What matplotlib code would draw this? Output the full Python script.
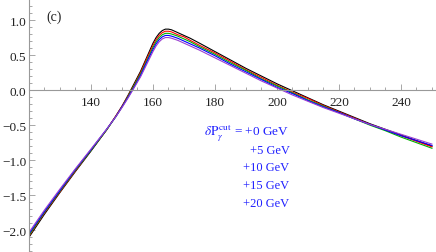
import matplotlib
matplotlib.use("Agg")
import matplotlib.pyplot as plt
from matplotlib.ticker import MultipleLocator, FixedLocator, FuncFormatter

plt.rcParams['font.family'] = ['Liberation Serif', 'DejaVu Serif']
plt.rcParams['mathtext.fontset'] = 'stix'

# values
x = [120, 125, 130, 135, 140, 145, 148, 150, 152, 154, 156, 158, 159, 160, 161,
     162, 163, 164, 165, 166, 168, 170, 172, 175, 180, 185, 190, 195, 200, 205,
     210, 215, 220, 225, 230, 235, 240, 245, 250]
y_0 = [-2.10, -1.77, -1.46, -1.16, -0.87, -0.57, -0.37, -0.23, -0.07, 0.10, 0.27, 0.47, 0.57, 0.67, 0.75,
       0.81, 0.85, 0.87, 0.87, 0.86, 0.82, 0.78, 0.74, 0.67, 0.55, 0.43, 0.31, 0.20, 0.09, -0.01,
       -0.11, -0.21, -0.30, -0.39, -0.48, -0.56, -0.64, -0.72, -0.80]
y_5 = [-2.08, -1.75, -1.45, -1.15, -0.86, -0.57, -0.37, -0.23, -0.08, 0.08, 0.25, 0.45, 0.54, 0.64, 0.72,
       0.78, 0.82, 0.84, 0.84, 0.83, 0.79, 0.76, 0.71, 0.64, 0.53, 0.41, 0.29, 0.18, 0.07, -0.03,
       -0.12, -0.22, -0.31, -0.40, -0.49, -0.57, -0.65, -0.73, -0.81]
y_10 = [-2.07, -1.74, -1.44, -1.14, -0.86, -0.57, -0.38, -0.24, -0.09, 0.07, 0.23, 0.42, 0.51, 0.61, 0.69,
        0.75, 0.79, 0.81, 0.81, 0.80, 0.77, 0.73, 0.69, 0.62, 0.51, 0.39, 0.28, 0.16, 0.06, -0.04,
        -0.14, -0.23, -0.32, -0.41, -0.50, -0.58, -0.67, -0.75, -0.83]
y_15 = [-2.05, -1.73, -1.43, -1.13, -0.85, -0.56, -0.38, -0.24, -0.10, 0.05, 0.21, 0.40, 0.49, 0.58, 0.66,
        0.72, 0.76, 0.78, 0.78, 0.77, 0.74, 0.70, 0.66, 0.60, 0.49, 0.37, 0.26, 0.15, 0.04, -0.05,
        -0.15, -0.24, -0.32, -0.41, -0.49, -0.57, -0.65, -0.72, -0.79]
y_20 = [-2.03, -1.71, -1.41, -1.12, -0.84, -0.56, -0.38, -0.25, -0.11, 0.04, 0.19, 0.37, 0.46, 0.55, 0.63,
        0.69, 0.73, 0.75, 0.75, 0.74, 0.71, 0.67, 0.63, 0.57, 0.46, 0.35, 0.24, 0.13, 0.03, -0.07,
        -0.16, -0.25, -0.33, -0.41, -0.49, -0.56, -0.63, -0.70, -0.77]
series = [y_0, y_5, y_10, y_15, y_20]
colors = ['black', '#ff0000', '#00b000', '#0000ff', '#9a40d0']
labels = ['+0 GeV', '+5 GeV', '+10 GeV', '+15 GeV', '+20 GeV']

fig = plt.figure(figsize=(4.36, 2.53), dpi=100)
ax = fig.add_axes([29 / 436, 0, 407 / 436, 1])

for ys, c in zip(series, colors):
    ax.plot(x, ys, color=c, lw=0.8, solid_joinstyle='round')

ax.set_xlim(120, 251.3)
ax.set_ylim(-2.31, 1.30)

# axes crossing like Mathematica
ax.spines['top'].set_visible(False)
ax.spines['right'].set_visible(False)
ax.spines['left'].set_position(('data', 120))
ax.spines['bottom'].set_position(('data', 0))
for s in ('left', 'bottom'):
    ax.spines[s].set_color('#999999')
    ax.spines[s].set_linewidth(0.8)

ax.xaxis.set_major_locator(FixedLocator([140, 160, 180, 200, 220, 240]))
ax.xaxis.set_minor_locator(MultipleLocator(5))
ax.yaxis.set_major_locator(MultipleLocator(0.5))
ax.yaxis.set_minor_locator(MultipleLocator(0.1))
ax.yaxis.set_major_formatter(FuncFormatter(lambda v, p: ('%.1f' % v).replace('-', '\u2212')))
ax.tick_params(which='both', direction='in', color='#999999', width=0.6,
               labelsize=9.5, labelcolor='#222222')
ax.tick_params(axis='x', pad=4)
ax.tick_params(axis='y', pad=2)
ax.tick_params(which='major', length=4)
ax.tick_params(which='minor', length=2)
ax.set_facecolor('none')

ax.text(125.5, 1.06, '(c)', fontsize=10, color='#222222', va='center', ha='left')

# text block in blue
ys_txt = [-0.60, -0.857, -1.10, -1.357, -1.614]
ax.text(204.0, ys_txt[0], r'$\delta\mathrm{P}_{\gamma}^{\,\mathrm{cut}}$ = ' + labels[0],
        color='#2020ff', fontsize=9.5, ha='right', va='center')
for yt, lab in zip(ys_txt[1:], labels[1:]):
    ax.text(204.0, yt, lab, color='#2020ff', fontsize=9, ha='right', va='center')

fig.savefig('out.png', dpi=100)
